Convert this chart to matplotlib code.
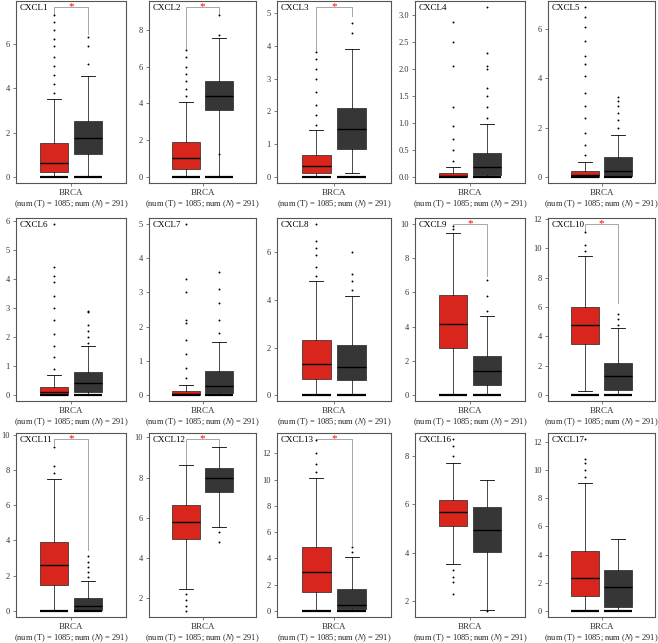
import matplotlib
matplotlib.use("Agg")
import matplotlib.pyplot as plt
from matplotlib.ticker import MultipleLocator, FormatStrFormatter

plt.rcParams['font.family'] = ['Liberation Serif', 'DejaVu Serif']
plt.rcParams['mathtext.fontset'] = 'stix'

# values (expression, log2(TPM+1))
genes = ['CXCL1', 'CXCL2', 'CXCL3', 'CXCL4', 'CXCL5',
         'CXCL6', 'CXCL7', 'CXCL8', 'CXCL9', 'CXCL10',
         'CXCL11', 'CXCL12', 'CXCL13', 'CXCL16', 'CXCL17']
n_tumor = 1085
n_normal = 291

# tumour boxes
T_lo = [0, 0, 0, 0, 0, 0, 0, 0, 0, 0.25, 0, 2.45, 0, 3.55, 0]
T_q1 = [0.22, 0.45, 0.13, 0.0, 0.0, 0.0, 0.0, 0.68, 2.72, 3.5, 1.45, 4.95, 1.45, 5.1, 1.05]
T_med = [0.62, 1.02, 0.33, 0.02, 0.08, 0.1, 0.02, 1.32, 4.15, 4.75, 2.6, 5.8, 3.0, 5.68, 2.35]
T_q3 = [1.55, 1.93, 0.66, 0.08, 0.25, 0.28, 0.12, 2.33, 5.83, 6.0, 3.9, 6.65, 4.85, 6.2, 4.28]
T_hi = [3.5, 4.1, 1.43, 0.19, 0.6, 0.68, 0.3, 4.8, 9.5, 9.45, 7.5, 8.65, 10.1, 7.7, 9.05]

# normal boxes
N_lo = [0, 0, 0.12, 0, 0, 0, 0, 0, 0, 0, 0, 5.55, 0, 1.62, 0]
N_q1 = [1.02, 3.65, 0.85, 0.03, 0.03, 0.1, 0.05, 0.63, 0.6, 0.35, 0.05, 7.28, 0.15, 4.03, 0.3]
N_med = [1.78, 4.42, 1.45, 0.19, 0.25, 0.4, 0.25, 1.2, 1.38, 1.3, 0.3, 8.0, 0.45, 4.95, 1.72]
N_q3 = [2.52, 5.2, 2.1, 0.45, 0.8, 0.78, 0.7, 2.12, 2.3, 2.2, 0.72, 8.47, 1.7, 5.88, 2.9]
N_hi = [4.57, 7.55, 3.9, 0.98, 1.72, 1.7, 1.55, 4.17, 4.6, 4.6, 1.72, 9.52, 4.1, 7.0, 5.1]

# dense cluster of samples at zero expression
T_zero = [1, 1, 1, 1, 1, 1, 1, 1, 1, 1, 1, 0, 1, 0, 1]
N_zero = [1, 1, 1, 1, 1, 1, 1, 1, 1, 1, 1, 0, 1, 0, 1]

# sparse samples outside the whiskers
T_out = [[3.8, 4.2, 4.6, 5.0, 5.4, 5.9, 6.2, 6.6, 7.0, 7.3],
         [4.4, 4.8, 5.2, 5.6, 6.0, 6.5, 6.9],
         [1.6, 1.9, 2.2, 2.6, 3.0, 3.3, 3.6, 3.8],
         [0.3, 0.5, 0.7, 0.95, 1.3, 2.05, 2.5, 2.87],
         [0.9, 1.3, 1.8, 2.4, 2.9, 3.4, 4.1, 4.6, 4.9, 5.5, 6.1, 6.5, 6.9],
         [0.9, 1.3, 1.7, 2.1, 2.6, 3.0, 3.4, 3.9, 4.1, 4.4, 5.9],
         [0.5, 0.8, 1.2, 1.6, 2.1, 2.2, 3.0, 3.4, 5.0],
         [5.0, 5.4, 5.9, 6.2, 6.5, 7.2],
         [9.7, 9.9],
         [9.8, 10.2, 11.1],
         [7.8, 8.2, 9.3],
         [2.2, 1.9, 1.6, 1.35],
         [10.6, 11.2, 12.0, 13.0],
         [8.0, 8.4, 8.7, 3.3, 3.0, 2.8, 2.3],
         [9.5, 10.0, 10.5, 10.8, 12.2]]
N_out = [[5.1, 5.9, 6.3],
         [7.7, 8.8, 1.25],
         [4.4, 4.7],
         [1.1, 1.3, 1.5, 1.65, 2.0, 2.05, 2.3, 3.15],
         [2.0, 2.3, 2.6, 2.9, 3.1, 3.25],
         [1.8, 2.0, 2.2, 2.4, 2.85, 2.9],
         [1.8, 2.2, 2.7, 3.1, 3.6],
         [4.4, 4.8, 5.1, 6.0],
         [4.9, 5.8, 6.7],
         [4.8, 5.2, 5.5],
         [1.9, 2.2, 2.5, 2.8, 3.1],
         [5.3, 4.8],
         [4.5, 4.9],
         [1.6],
         []]

# significance bracket: (top, left end, right end), None = not significant
sig = [(7.66, 7.3, 6.45), (9.24, 6.9, 8.8), (5.18, 3.85, 4.9), None, None,
       None, None, None, (10.0, 9.9, 6.97), (11.66, 11.2, 6.3),
       (9.75, 9.4, 3.44), (9.92, 8.65, 9.5), (13.1, 13.0, 5.0), None, None]

ystep = [2, 2, 1, 0.5, 2, 1, 1, 2, 2, 2, 2, 2, 2, 2, 2]

# panel frames in pixels
W, H = 658, 643
col_l = [16, 149, 277, 415, 548]
col_r = [126, 256, 391, 525, 655]
row_t = [1, 218, 433]
row_b = [183, 401, 617]

red = '#d9261c'
dark = '#363636'

fig = plt.figure(figsize=(W / 100, H / 100), dpi=100)

for i, g in enumerate(genes):
    r, c = divmod(i, 5)
    ax = fig.add_axes([col_l[c] / W, 1 - row_b[r] / H,
                       (col_r[c] - col_l[c]) / W, (row_b[r] - row_t[r]) / H])

    stats = [dict(med=T_med[i], q1=T_q1[i], q3=T_q3[i], whislo=T_lo[i], whishi=T_hi[i], fliers=T_out[i]),
             dict(med=N_med[i], q1=N_q1[i], q3=N_q3[i], whislo=N_lo[i], whishi=N_hi[i], fliers=N_out[i])]
    bp = ax.bxp(stats, positions=[0, 1], widths=0.82, patch_artist=True,
                capwidths=0.4,
                medianprops=dict(color='black', lw=1.0),
                whiskerprops=dict(color='black', lw=0.5),
                capprops=dict(color='black', lw=0.6),
                boxprops=dict(lw=0.5, edgecolor='#222222'),
                flierprops=dict(marker='o', markersize=1.4, markerfacecolor='black',
                                markeredgecolor='none'))
    bp['boxes'][0].set_facecolor(red)
    bp['boxes'][1].set_facecolor(dark)

    # zero-expression samples pile up into a bar
    if T_zero[i]:
        ax.hlines(0, -0.41, 0.41, color='black', lw=1.6, zorder=3)
    if N_zero[i]:
        ax.hlines(0, 0.59, 1.41, color='black', lw=1.6, zorder=3)

    top = max(T_hi[i], N_hi[i], max(T_out[i] + N_out[i] + [0]))
    bot = min(T_lo[i], N_lo[i], min(T_out[i] + N_out[i] + [T_lo[i]]))
    if sig[i] is not None:
        h, le, re = sig[i]
        ax.plot([0, 0, 1, 1], [le, h, h, re], color='#999999', lw=0.6, zorder=1)
        ax.text(0.5, h, '*', color='red', fontsize=8, ha='center', va='center', zorder=4)
        top = max(top, h)
    pad = (top - bot) * 0.035
    ax.set_ylim(bot - pad, top + pad)
    ax.set_xlim(-1.11, 2.11)

    ax.yaxis.set_major_locator(MultipleLocator(ystep[i]))
    if ystep[i] < 1:
        ax.yaxis.set_major_formatter(FormatStrFormatter('%.1f'))
    ax.set_xticks([0.5])
    ax.set_xticklabels(['BRCA'])
    ax.tick_params(length=2.5, width=0.6, color='#666666', labelsize=6,
                   labelcolor='#333333', pad=2)
    ax.tick_params(axis='x', labelsize=6.5, pad=2)
    ax.set_xlabel('(num (T) = %d; num ($\\mathit{N}$) = %d)' % (n_tumor, n_normal),
                  fontsize=6, labelpad=1, color='#222222')
    for s in ax.spines.values():
        s.set_color('#555555')
        s.set_linewidth(0.8)
    ax.text(0.03, 0.985, g, transform=ax.transAxes, fontsize=6.5, ha='left', va='top')

fig.savefig('out.png', dpi=100)
